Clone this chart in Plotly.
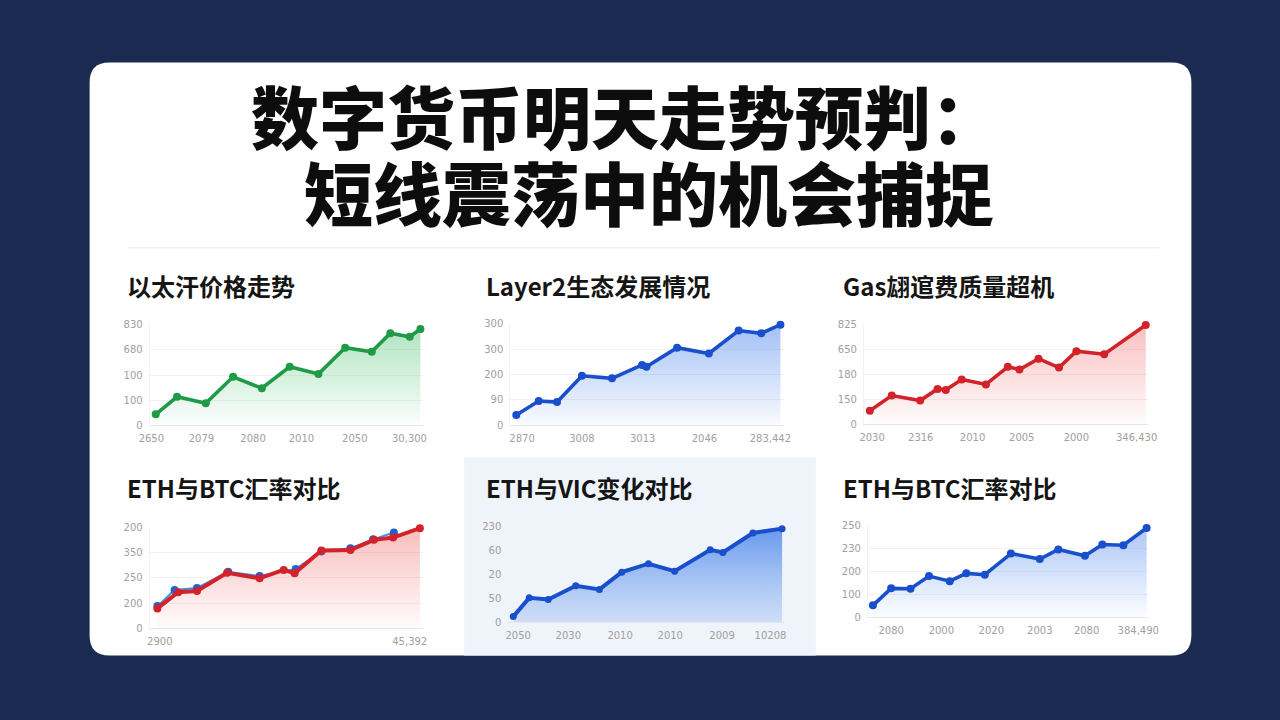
import plotly.graph_objects as go

# ---------------- data ----------------
title_line1 = "数字货币明天走势预判："
title_line2 = "短线震荡中的机会捕捉"

panel_titles = ["以太汗价格走势", "Layer2生态发展情况", "Gas翃逭费质量超机",
                "ETH与BTC汇率对比", "ETH与VIC变化对比", "ETH与BTC汇率对比"]

y_tickvals = [0, 100, 200, 300, 400]
y_ticktext = [
    ["0", "100", "100", "680", "830"],
    ["0", "90", "200", "300", "300"],
    ["0", "150", "180", "650", "825"],
    ["0", "200", "250", "350", "200"],
    ["0", "50", "20", "60", "230"],
    ["0", "100", "200", "230", "250"],
]

x_tickvals = [
    [0.6, 18.9, 37.8, 55.5, 75.0, 95.0],
    [4.3, 26.2, 48.4, 71.0, 95.1],
    [2.9, 20.0, 38.2, 55.5, 74.7, 95.9],
    [3.7, 95.1],
    [3.6, 21.8, 40.6, 58.8, 77.6, 95.2],
    [8.3, 26.2, 44.0, 61.3, 78.0, 96.4],
]
x_ticktext = [
    ["2650", "2079", "2080", "2010", "2050", "30,300"],
    ["2870", "3008", "3013", "2046", "283,442"],
    ["2030", "2316", "2010", "2005", "2000", "346,430"],
    ["2900", "45,392"],
    ["2050", "2030", "2010", "2010", "2009", "10208"],
    ["2080", "2000", "2020", "2003", "2080", "384,490"],
]

p1_x = [2.2, 10.0, 20.5, 30.5, 41.0, 51.2, 61.7, 71.5, 81.2, 88.0, 95.1, 99.0]
p1_y = [43, 113, 87, 193, 147, 233, 204, 309, 293, 367, 353, 384]

p2_x = [2.2, 10.4, 17.1, 26.2, 37.2, 48.2, 49.8, 61.0, 72.6, 83.5, 91.8, 98.8]
p2_y = [40, 95, 91, 195, 185, 238, 231, 306, 283, 374, 363, 397]

p3_x = [2.1, 9.8, 19.8, 25.9, 28.8, 34.4, 42.9, 50.6, 54.7, 61.4, 68.6, 74.7, 84.5, 99.1]
p3_y = [54, 115, 95, 142, 138, 180, 160, 231, 220, 264, 228, 294, 282, 400]

p4_red_x = [2.8, 10.4, 17.3, 28.3, 40.2, 49.0, 53.0, 62.8, 73.4, 82.0, 89.0, 98.8]
p4_red_y = [79, 143, 148, 220, 198, 231, 218, 308, 310, 350, 359, 396]
p4_blue_x = [2.8, 9.1, 17.3, 28.7, 40.2, 53.4, 62.8, 73.4, 81.7, 89.3]
p4_blue_y = [88, 152, 160, 224, 207, 235, 304, 317, 352, 379]

p5_x = [1.8, 7.6, 14.5, 24.5, 33.1, 41.2, 50.9, 60.4, 73.3, 77.9, 88.8, 99.4]
p5_y = [24, 102, 95, 152, 137, 209, 244, 213, 302, 291, 372, 390]

p6_x = [1.8, 8.3, 15.2, 21.8, 29.2, 35.1, 41.7, 51.0, 61.3, 67.9, 77.4, 83.6, 91.1, 99.4]
p6_y = [52, 126, 124, 179, 157, 191, 185, 277, 253, 295, 267, 316, 313, 388]

# ---------------- layout helpers ----------------
W, H = 1280, 720
S = 0.982  # observed render shrink about the centre; compensated below
GREEN, BLUE, RED = "#1f9a47", "#1a4fcc", "#d2222a"


def PX(x):
    return (640 + (x - 640) / S) / W


def PY(y):
    return 1 - (360 + (y - 360) / S) / H


# plot areas in screen pixels (left, right, top, bottom)
areas = [
    (150, 423, 325, 425),
    (510, 783, 324, 425),
    (863, 1147, 325, 424),
    (150, 423, 527, 628),
    (508, 783, 526, 622),
    (867, 1147, 525, 617),
]
title_pos = [(125, 286), (484, 286), (840, 286), (125, 487), (484, 487), (840, 487)]

fig = go.Figure()


def ax(i):
    return ("x" if i == 0 else f"x{i+1}"), ("y" if i == 0 else f"y{i+1}")


def add_area(i, xs, ys, color, top_rgba, bot_rgba, lw=3.6, ms=8):
    xa, ya = ax(i)
    fig.add_trace(go.Scatter(
        x=xs, y=ys, xaxis=xa, yaxis=ya, mode="lines+markers",
        line=dict(color=color, width=lw), marker=dict(color=color, size=ms),
        fill="tozeroy",
        fillgradient=dict(type="vertical",
                          colorscale=[[0, bot_rgba], [1, top_rgba]]),
        cliponaxis=False, showlegend=False, hoverinfo="skip"))


add_area(0, p1_x, p1_y, GREEN, "rgba(60,190,100,0.40)", "rgba(60,190,100,0.02)")
add_area(1, p2_x, p2_y, BLUE, "rgba(70,130,235,0.50)", "rgba(70,130,235,0.03)")
add_area(2, p3_x, p3_y, RED, "rgba(240,90,90,0.38)", "rgba(240,90,90,0.02)")

# panel 4: blue underlay then red
xa, ya = ax(3)
fig.add_trace(go.Scatter(
    x=p4_blue_x, y=p4_blue_y, xaxis=xa, yaxis=ya, mode="lines+markers",
    line=dict(color="#3d8fe3", width=2), marker=dict(color="#1f62d6", size=8),
    cliponaxis=False, showlegend=False, hoverinfo="skip"))
add_area(3, p4_red_x, p4_red_y, RED, "rgba(240,90,90,0.40)", "rgba(240,90,90,0.02)", lw=4)

add_area(4, p5_x, p5_y, BLUE, "rgba(70,130,235,0.80)", "rgba(110,160,240,0.25)", lw=4, ms=7)
add_area(5, p6_x, p6_y, BLUE, "rgba(70,130,235,0.45)", "rgba(70,130,235,0.02)")

layout = dict(
    width=W, height=H, margin=dict(l=0, r=0, t=0, b=0), autosize=False,
    paper_bgcolor="#1a2a51", plot_bgcolor="rgba(0,0,0,0)",
    font=dict(family="Noto Sans CJK SC, Noto Sans, sans-serif"),
)

for i, (l, r, t, b) in enumerate(areas):
    sx = "xaxis" if i == 0 else f"xaxis{i+1}"
    sy = "yaxis" if i == 0 else f"yaxis{i+1}"
    xa, ya = ax(i)
    layout[sx] = dict(domain=[PX(l), PX(r)], range=[0, 100], anchor=ya,
                      tickvals=x_tickvals[i], ticktext=x_ticktext[i],
                      showgrid=False, zeroline=False, showline=True,
                      linecolor="#e4e6ea", linewidth=1, ticks="",
                      ticklabelstandoff=4,
                      tickfont=dict(size=10, color="#a0a0a0",
                                    family="DejaVu Sans"), fixedrange=True)
    layout[sy] = dict(domain=[PY(b), PY(t)], range=[0, 400], anchor=xa,
                      tickvals=y_tickvals, ticktext=y_ticktext[i],
                      showgrid=True, gridcolor="#f1f2f4", gridwidth=1,
                      zeroline=False, showline=True, linecolor="#f1f2f4",
                      ticks="", ticklabelstandoff=4,
                      tickfont=dict(size=10, color="#a0a0a0",
                                    family="DejaVu Sans"),
                      fixedrange=True)

fig.update_layout(**layout)

# card and decorations
rad = 20
card_pts = [("M", 90 + rad, 63), ("L", 1190 - rad, 63), ("Q", 1190, 63), ("", 1190, 63 + rad),
            ("L", 1190, 655 - rad), ("Q", 1190, 655), ("", 1190 - rad, 655),
            ("L", 90 + rad, 655), ("Q", 90, 655), ("", 90, 655 - rad),
            ("L", 90, 63 + rad), ("Q", 90, 63), ("", 90 + rad, 63)]
card_path = " ".join(f"{c} {PX(x):.5f},{PY(y):.5f}".strip() for c, x, y in card_pts) + " Z"

shapes = [
    dict(type="path", xref="paper", yref="paper", path=card_path,
         fillcolor="#ffffff", line=dict(width=0), layer="below"),
    dict(type="rect", xref="paper", yref="paper",
         x0=PX(464), x1=PX(815), y0=PY(655), y1=PY(457),
         fillcolor="#eff3fa", line=dict(width=0), layer="below"),
    dict(type="line", xref="paper", yref="paper",
         x0=PX(128), x1=PX(1158), y0=PY(248), y1=PY(248),
         line=dict(color="#e8e9ec", width=1), layer="below"),
]

annotations = [
    dict(text=title_line1, x=PX(249), y=PY(115), xref="paper", yref="paper",
         showarrow=False, xanchor="left", yanchor="middle",
         font=dict(size=68, color="#0d0d0d", family="Noto Sans CJK SC", weight=900)),
    dict(text=title_line2, x=PX(302), y=PY(191), xref="paper", yref="paper",
         showarrow=False, xanchor="left", yanchor="middle",
         font=dict(size=69, color="#0d0d0d", family="Noto Sans CJK SC", weight=900)),
]
for (tx, ty), t in zip(title_pos, panel_titles):
    annotations.append(dict(text=t, x=PX(tx), y=PY(ty),
                            xref="paper", yref="paper", showarrow=False,
                            xanchor="left", yanchor="middle",
                            font=dict(size=24, color="#151515",
                                      family="Noto Sans CJK SC", weight=700)))

fig.update_layout(shapes=shapes, annotations=annotations)
fig.write_html("out.html")
